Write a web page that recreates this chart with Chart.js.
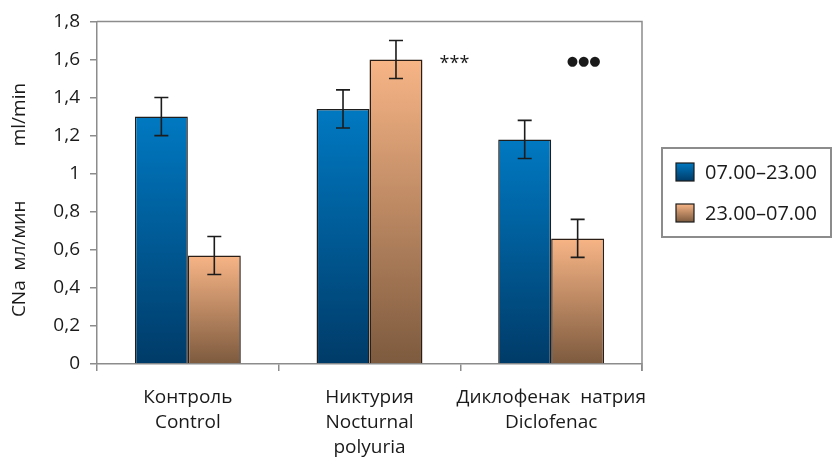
<!DOCTYPE html>
<html>
<head>
<meta charset="utf-8">
<script src="https://cdn.jsdelivr.net/npm/chart.js@4.4.1/dist/chart.umd.min.js"></script>
<style>
  html, body { margin: 0; padding: 0; background: #ffffff; }
  #wrap { width: 832px; height: 463px; }
</style>
</head>
<body>
<div id="wrap"><canvas id="c" width="832" height="463"></canvas></div>
<script>
// Sodium clearance by time of day, three study groups
const categories = [
  ['Контроль', 'Control'],
  ['Никтурия', 'Nocturnal', 'polyuria'],
  ['Диклофенак  натрия', 'Diclofenac']
];
const seriesNames = ['07.00–23.00', '23.00–07.00'];
const dayValues = [1.30, 1.34, 1.18];
const nightValues = [0.57, 1.60, 0.66];
const dayErrors = [0.10, 0.10, 0.10];
const nightErrors = [0.10, 0.10, 0.10];
const yTickValues = [0, 0.2, 0.4, 0.6, 0.8, 1, 1.2, 1.4, 1.6, 1.8];
const yTickLabels = ['0', '0,2', '0,4', '0,6', '0,8', '1', '1,2', '1,4', '1,6', '1,8'];
const yTitle = 'CNa  мл/мин           ml/min';
const sigMarks = ['', '***', '●●●'];
const sigLevel = 1.59;

const FONT = '"Open Sans", "DejaVu Sans", sans-serif';
const AXIS_GRAY = '#8c8c8c';
const palettes = [
  { top: '#0079c2', bottom: '#003b68' },
  { top: '#f8b586', bottom: '#7d5a3e' }
];

function barGradient(ctx, paletteIndex) {
  const chart = ctx.chart;
  const area = chart.chartArea;
  if (!area) return palettes[paletteIndex].top;
  const y = chart.scales.y;
  const v = ctx.raw == null ? 0 : ctx.raw;
  const yTop = y.getPixelForValue(v);
  const yBot = y.getPixelForValue(0);
  const g = chart.ctx.createLinearGradient(0, yTop, 0, yBot);
  g.addColorStop(0, palettes[paletteIndex].top);
  g.addColorStop(1, palettes[paletteIndex].bottom);
  return g;
}

const errorBars = {
  id: 'errorBars',
  afterDatasetsDraw(chart) {
    const c = chart.ctx;
    const y = chart.scales.y;
    const errs = [dayErrors, nightErrors];
    c.save();
    c.strokeStyle = '#1c1c1c';
    c.lineWidth = 1.6;
    chart.data.datasets.forEach((ds, di) => {
      chart.getDatasetMeta(di).data.forEach((bar, i) => {
        const v = ds.data[i], e = errs[di][i];
        const yHi = y.getPixelForValue(v + e);
        const yLo = y.getPixelForValue(v - e);
        const x = bar.x, cap = 7;
        c.beginPath();
        c.moveTo(x, yHi); c.lineTo(x, yLo);
        c.moveTo(x - cap, yHi); c.lineTo(x + cap, yHi);
        c.moveTo(x - cap, yLo); c.lineTo(x + cap, yLo);
        c.stroke();
      });
    });
    c.restore();
  }
};

const decorations = {
  id: 'decorations',
  afterDraw(chart) {
    const c = chart.ctx;
    const a = chart.chartArea;
    const y = chart.scales.y;
    c.save();
    // frame around the plot area
    c.strokeStyle = AXIS_GRAY;
    c.lineWidth = 1.5;
    c.beginPath();
    c.moveTo(a.left, a.top); c.lineTo(a.right, a.top); c.lineTo(a.right, a.bottom + 7);
    c.stroke();

    // significance marks beside the night bars
    const night = chart.getDatasetMeta(1).data;
    c.fillStyle = '#1a1a1a';
    c.textAlign = 'center';
    c.textBaseline = 'middle';
    const yMark = y.getPixelForValue(sigLevel);
    if (sigMarks[1]) {
      c.font = '18px ' + FONT;
      c.fillText(sigMarks[1], night[1].x + night[1].width / 2 + 32, yMark + 3);
    }
    if (sigMarks[2]) {
      c.font = '13px "DejaVu Sans", sans-serif';
      c.fillText(sigMarks[2], night[2].x + 6, yMark);
    }

    // rotated axis title
    c.save();
    c.translate(20, 200);
    c.rotate(-Math.PI / 2);
    c.font = '19px ' + FONT;
    c.fillStyle = '#1a1a1a';
    c.fillText(yTitle, 0, 0);
    c.restore();

    // legend box
    const lx = 662, ly = 148, lw = 169, lh = 89;
    c.fillStyle = '#ffffff';
    c.fillRect(lx, ly, lw, lh);
    c.strokeStyle = AXIS_GRAY;
    c.lineWidth = 2;
    c.strokeRect(lx, ly, lw, lh);
    const rows = [172, 213];
    seriesNames.forEach((name, i) => {
      const sy = rows[i];
      const g = c.createLinearGradient(0, sy - 9, 0, sy + 9);
      g.addColorStop(0, palettes[i].top);
      g.addColorStop(1, palettes[i].bottom);
      c.fillStyle = g;
      c.fillRect(676, sy - 9, 18, 18);
      c.strokeStyle = '#1c1c1c';
      c.lineWidth = 1.2;
      c.strokeRect(676, sy - 9, 18, 18);
      c.fillStyle = '#1a1a1a';
      c.textAlign = 'left';
      c.font = '20px ' + FONT;
      c.fillText(name, 705, sy + 1);
    });
    c.restore();
  }
};

new Chart(document.getElementById('c'), {
  type: 'bar',
  data: {
    labels: categories,
    datasets: [
      {
        label: seriesNames[0],
        data: dayValues,
        backgroundColor: ctx => barGradient(ctx, 0),
        borderColor: '#1e1e1e',
        borderWidth: 1.5,
        categoryPercentage: 0.583,
        barPercentage: 1
      },
      {
        label: seriesNames[1],
        data: nightValues,
        backgroundColor: ctx => barGradient(ctx, 1),
        borderColor: '#2a1e16',
        borderWidth: 1.5,
        categoryPercentage: 0.583,
        barPercentage: 1
      }
    ]
  },
  options: {
    responsive: false,
    animation: false,
    devicePixelRatio: 1,
    layout: { padding: { left: 0, top: 16, right: 190, bottom: 0 } },
    plugins: {
      legend: { display: false },
      tooltip: { enabled: false }
    },
    scales: {
      x: {
        grid: {
          offset: true,
          drawOnChartArea: false,
          drawTicks: true,
          tickLength: 7,
          color: AXIS_GRAY,
          lineWidth: 1.5
        },
        border: { color: AXIS_GRAY, width: 1.5 },
        ticks: {
          color: '#1a1a1a',
          font: { family: FONT, size: 19, lineHeight: 1.32 },
          padding: 14,
          maxRotation: 0,
          autoSkip: false
        },
        afterFit(s) { s.height = 99; }
      },
      y: {
        min: 0,
        max: 1.8,
        afterBuildTicks(s) { s.ticks = yTickValues.map(v => ({ value: v })); },
        grid: {
          drawOnChartArea: false,
          drawTicks: true,
          tickLength: 7,
          color: AXIS_GRAY,
          lineWidth: 1.5
        },
        border: { color: AXIS_GRAY, width: 1.5 },
        ticks: {
          color: '#1a1a1a',
          font: { family: FONT, size: 19 },
          padding: 10,
          callback: (v, i) => yTickLabels[yTickValues.indexOf(Math.round(v * 10) / 10)]
        },
        afterFit(s) { s.width = 97; }
      }
    }
  },
  plugins: [errorBars, decorations]
});
</script>
</body>
</html>
